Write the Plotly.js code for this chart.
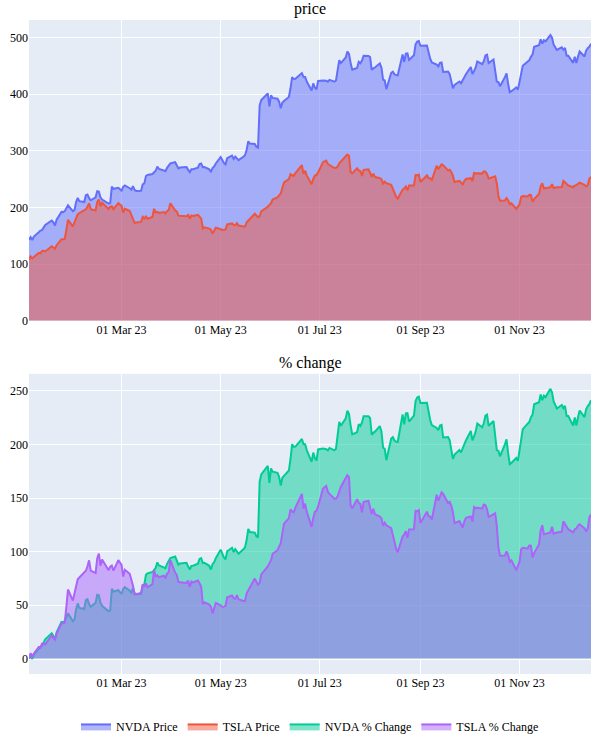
<!DOCTYPE html>
<html>
<head>
<meta charset="utf-8">
<script src="https://cdn.plot.ly/plotly-3.0.1.min.js"></script>
<style>html,body{margin:0;padding:0;background:#fff}#chart{width:600px;height:750px}</style>
</head>
<body>
<div id="chart"></div>
<script>
// Trading days shown (Jan 3 – Dec 15, 2023)
const dates = [
"2023-01-03","2023-01-04","2023-01-05","2023-01-06","2023-01-09","2023-01-10","2023-01-11","2023-01-12","2023-01-13","2023-01-17","2023-01-18","2023-01-19","2023-01-20","2023-01-23","2023-01-24","2023-01-25","2023-01-26","2023-01-27","2023-01-30","2023-01-31",
"2023-02-01","2023-02-02","2023-02-03","2023-02-06","2023-02-07","2023-02-08","2023-02-09","2023-02-10","2023-02-13","2023-02-14","2023-02-15","2023-02-16","2023-02-17","2023-02-21","2023-02-22","2023-02-23","2023-02-24","2023-02-27","2023-02-28",
"2023-03-01","2023-03-02","2023-03-03","2023-03-06","2023-03-07","2023-03-08","2023-03-09","2023-03-10","2023-03-13","2023-03-14","2023-03-15","2023-03-16","2023-03-17","2023-03-20","2023-03-21","2023-03-22","2023-03-23","2023-03-24","2023-03-27","2023-03-28","2023-03-29","2023-03-30","2023-03-31",
"2023-04-03","2023-04-04","2023-04-05","2023-04-06","2023-04-10","2023-04-11","2023-04-12","2023-04-13","2023-04-14","2023-04-17","2023-04-18","2023-04-19","2023-04-20","2023-04-21","2023-04-24","2023-04-25","2023-04-26","2023-04-27","2023-04-28",
"2023-05-01","2023-05-02","2023-05-03","2023-05-04","2023-05-05","2023-05-08","2023-05-09","2023-05-10","2023-05-11","2023-05-12","2023-05-15","2023-05-16","2023-05-17","2023-05-18","2023-05-19","2023-05-22","2023-05-23","2023-05-24","2023-05-25","2023-05-26","2023-05-30","2023-05-31",
"2023-06-01","2023-06-02","2023-06-05","2023-06-06","2023-06-07","2023-06-08","2023-06-09","2023-06-12","2023-06-13","2023-06-14","2023-06-15","2023-06-16","2023-06-20","2023-06-21","2023-06-22","2023-06-23","2023-06-26","2023-06-27","2023-06-28","2023-06-29","2023-06-30",
"2023-07-03","2023-07-05","2023-07-06","2023-07-07","2023-07-10","2023-07-11","2023-07-12","2023-07-13","2023-07-14","2023-07-17","2023-07-18","2023-07-19","2023-07-20","2023-07-21","2023-07-24","2023-07-25","2023-07-26","2023-07-27","2023-07-28","2023-07-31",
"2023-08-01","2023-08-02","2023-08-03","2023-08-04","2023-08-07","2023-08-08","2023-08-09","2023-08-10","2023-08-11","2023-08-14","2023-08-15","2023-08-16","2023-08-17","2023-08-18","2023-08-21","2023-08-22","2023-08-23","2023-08-24","2023-08-25","2023-08-28","2023-08-29","2023-08-30","2023-08-31",
"2023-09-01","2023-09-05","2023-09-06","2023-09-07","2023-09-08","2023-09-11","2023-09-12","2023-09-13","2023-09-14","2023-09-15","2023-09-18","2023-09-19","2023-09-20","2023-09-21","2023-09-22","2023-09-25","2023-09-26","2023-09-27","2023-09-28","2023-09-29",
"2023-10-02","2023-10-03","2023-10-04","2023-10-05","2023-10-06","2023-10-09","2023-10-10","2023-10-11","2023-10-12","2023-10-13","2023-10-16","2023-10-17","2023-10-18","2023-10-19","2023-10-20","2023-10-23","2023-10-24","2023-10-25","2023-10-26","2023-10-27","2023-10-30","2023-10-31",
"2023-11-01","2023-11-02","2023-11-03","2023-11-06","2023-11-07","2023-11-08","2023-11-09","2023-11-10","2023-11-13","2023-11-14","2023-11-15","2023-11-16","2023-11-17","2023-11-20","2023-11-21","2023-11-22","2023-11-24","2023-11-27","2023-11-28","2023-11-29","2023-11-30",
"2023-12-01","2023-12-04","2023-12-05","2023-12-06","2023-12-07","2023-12-08","2023-12-11","2023-12-12","2023-12-13","2023-12-14","2023-12-15"
];

// NVDA closing price
const nvdaPrice = [
143.2,147.5,142.7,148.6,156.3,159.1,160.0,165.1,169.0,177.0,173.8,168.2,178.4,192.2,191.8,193.5,197.6,203.7,193.3,195.4,
209.4,217.0,211.0,209.5,221.4,222.6,216.3,212.7,217.8,228.6,227.9,218.0,213.9,206.6,207.7,236.6,232.9,234.7,232.2,
229.7,236.4,238.9,233.9,231.4,237.5,230.8,229.2,229.6,240.6,242.3,255.4,257.3,259.0,262.0,264.7,271.9,267.8,265.3,264.1,269.8,273.8,277.8,
279.7,274.5,268.8,270.4,271.3,266.3,262.4,267.3,267.5,270.2,276.5,277.6,271.0,271.4,267.4,262.4,269.6,272.3,277.5,
289.0,282.5,278.6,276.0,286.8,291.5,285.7,289.6,286.0,283.4,289.5,292.1,301.8,316.8,312.6,311.8,306.9,305.4,379.8,389.5,401.1,378.3,
397.7,393.3,391.7,386.5,374.8,385.1,387.7,394.8,410.2,430.0,426.5,426.9,437.0,430.3,430.0,422.1,406.3,418.8,411.2,408.2,423.0,
424.1,423.4,421.9,425.0,421.8,424.0,439.0,459.8,454.7,464.6,474.9,470.8,455.2,443.1,446.1,456.8,454.5,459.0,467.5,467.3,
465.1,442.7,445.2,446.8,454.2,446.6,425.5,423.9,408.6,437.5,439.4,434.9,433.4,433.0,469.7,456.7,471.2,471.6,460.2,468.4,487.8,492.6,493.6,
485.1,485.5,470.6,462.4,455.7,451.8,448.7,454.9,455.8,439.0,439.7,435.2,422.4,410.2,416.1,422.2,419.1,424.7,430.9,435.0,
447.8,435.2,440.4,446.9,457.6,452.7,458.0,468.1,469.5,454.6,461.0,439.4,422.0,421.0,413.9,429.8,436.6,417.8,403.3,405.0,411.6,407.8,
423.3,435.1,450.1,457.5,459.6,465.7,469.5,483.4,486.2,496.6,488.9,494.8,493.0,504.1,499.4,487.2,477.8,482.4,478.2,481.4,467.7,
467.7,455.1,465.7,455.0,466.0,475.1,466.3,476.6,480.9,483.5,488.9
];

// TSLA closing price
const tslaPrice = [
108.1,113.6,110.3,113.1,119.8,118.9,123.2,123.6,122.4,131.5,128.8,127.2,133.4,143.8,143.9,144.4,160.3,177.9,166.7,173.2,
181.4,188.3,190.0,194.8,196.8,201.3,207.3,196.9,194.6,209.3,214.2,202.0,208.3,197.4,200.9,202.1,196.9,207.6,205.7,
202.8,190.9,197.8,193.8,187.7,182.0,172.9,173.4,174.5,183.3,180.5,184.1,180.1,183.3,197.6,191.2,192.2,190.4,191.8,189.2,193.9,195.3,207.5,
194.8,192.6,185.5,185.1,184.5,186.8,180.5,185.9,185.0,187.0,184.3,180.6,163.0,165.1,162.6,160.7,153.8,160.2,164.3,
161.8,160.3,160.6,161.2,170.1,171.8,169.2,168.5,172.1,168.0,166.4,166.5,173.9,176.9,180.1,188.9,185.8,182.9,184.5,193.2,201.2,203.9,
207.5,214.0,217.6,221.3,224.6,234.9,244.4,249.8,258.7,256.8,255.9,260.5,274.5,259.5,264.6,256.6,241.1,250.2,256.2,257.5,261.8,
279.8,282.5,276.5,274.4,269.6,269.8,272.0,277.9,281.4,290.4,293.3,291.3,262.9,260.0,269.1,265.3,264.4,255.7,266.4,267.4,
261.1,254.1,259.3,253.9,251.5,249.7,242.2,245.3,242.7,239.8,233.0,225.6,219.2,215.5,231.3,233.2,236.9,230.0,238.6,238.8,257.2,256.9,258.1,
245.0,256.5,251.9,251.5,248.5,273.6,267.5,271.3,276.0,274.4,265.3,266.5,262.6,255.7,244.9,247.0,244.1,240.5,246.4,250.2,
251.6,246.5,261.2,260.1,260.5,259.7,263.6,263.0,258.9,251.1,253.9,254.9,242.7,220.1,212.0,212.1,216.5,212.4,205.8,207.3,197.4,200.8,
205.7,218.5,220.0,219.3,222.2,222.1,210.0,214.7,223.7,237.4,242.8,233.6,234.3,235.6,241.2,234.2,235.5,236.1,246.7,244.1,240.1,
238.8,235.6,238.7,239.4,242.6,243.8,239.7,237.0,239.3,251.1,253.5
];

// % change relative to the first shown close (how the lower panel is defined)
const nvdaPct = nvdaPrice.map(v => (v / nvdaPrice[0] - 1) * 100);
const tslaPct = tslaPrice.map(v => (v / tslaPrice[0] - 1) * 100);

const seriesNames = ["NVDA Price", "TSLA Price", "NVDA % Change", "TSLA % Change"];
const subplotTitles = ["price", "% change"];
const colors = ["#636efa", "#EF553B", "#00cc96", "#ab63fa"];

const traces = [
  {x: dates, y: nvdaPrice, name: seriesNames[0], xaxis: "x", yaxis: "y"},
  {x: dates, y: tslaPrice, name: seriesNames[1], xaxis: "x", yaxis: "y"},
  {x: dates, y: nvdaPct, name: seriesNames[2], xaxis: "x2", yaxis: "y2"},
  {x: dates, y: tslaPct, name: seriesNames[3], xaxis: "x2", yaxis: "y2"}
].map((t, i) => Object.assign(t, {
  type: "scatter", mode: "lines", fill: "tozeroy",
  line: {color: colors[i], width: 2}
}));

const axisStyle = {
  gridcolor: "white", zerolinecolor: "white", zerolinewidth: 2,
  linecolor: "white", ticks: "", showline: false,
  tickfont: {size: 12, color: "#000"}
};

const layout = {
  width: 600, height: 750,
  margin: {l: 29, r: 9, t: 20, b: 76},
  paper_bgcolor: "white",
  plot_bgcolor: "#E5ECF6",
  font: {family: "'Liberation Serif', 'Times New Roman', serif", size: 12, color: "#000"},
  showlegend: true,
  legend: {orientation: "h", x: 0.5, xanchor: "center", y: -0.058, yanchor: "top",
           font: {size: 12, color: "#000"}},
  xaxis: Object.assign({domain: [0, 1], anchor: "y", tickformat: "%d %b %y"}, axisStyle),
  yaxis: Object.assign({domain: [0.54, 1], anchor: "x"}, axisStyle),
  xaxis2: Object.assign({domain: [0, 1], anchor: "y2", tickformat: "%d %b %y"}, axisStyle),
  yaxis2: Object.assign({domain: [0, 0.459], anchor: "x2"}, axisStyle),
  annotations: [
    {text: subplotTitles[0], x: 0.5, y: 1, xref: "paper", yref: "paper",
     xanchor: "center", yanchor: "bottom", showarrow: false, font: {size: 16, color: "#000"}},
    {text: subplotTitles[1], x: 0.5, y: 0.459, xref: "paper", yref: "paper",
     xanchor: "center", yanchor: "bottom", showarrow: false, font: {size: 16, color: "#000"}}
  ]
};

Plotly.newPlot("chart", traces, layout, {displayModeBar: false, staticPlot: true});
</script>
</body>
</html>
